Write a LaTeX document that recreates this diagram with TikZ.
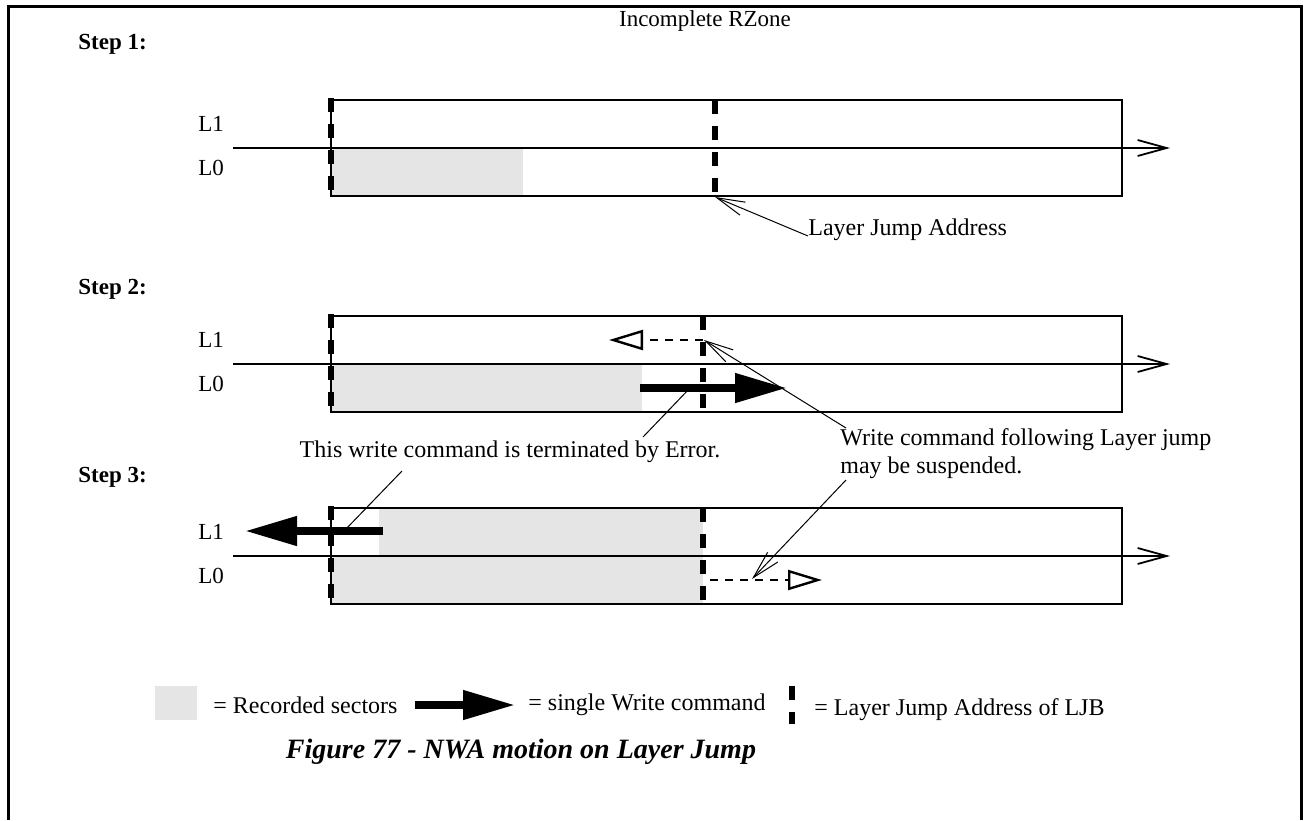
\documentclass[tikz,border=0pt]{standalone}
\usepackage{fontspec}
\setmainfont{Liberation Serif}
\usetikzlibrary{arrows.meta,positioning}

\begin{document}
\begin{tikzpicture}[
  x=0.5pt,y=-0.5pt,
  font=\fontsize{11.5}{13.5}\selectfont,
  every node/.style={inner sep=0pt},
  zone/.style={draw,line width=0.9pt},
  rec/.style={fill=black!10},
  lja/.style={line width=2.8pt,dash pattern=on 7pt off 6pt},
  axis/.style={line width=0.9pt,-{Straight Barb[length=14.5pt,width=8pt]}},
  callout/.style={line width=0.5pt},
  pointer/.style={callout,-{Straight Barb[length=14pt,width=7pt]}},
  wcmd/.style={line width=3.8pt,-{Triangle[length=26pt,width=14pt]}},
  susp/.style={line width=1.2pt,dash pattern=on 4pt off 3.5pt,-{Triangle[open,length=17pt,width=10pt]}},
  lbl/.style={anchor=west},
  note/.style={font=\fontsize{12}{14}\selectfont},
  steplbl/.style={anchor=west,font=\fontsize{11.5}{13.5}\selectfont\bfseries},
]
\useasboundingbox (0,0) rectangle (1306,820);

% frame
\draw[line width=1.5pt] (8,820) -- (8,6) -- (1301,6) -- (1301,820);

\node (title) at (705,21) {Incomplete RZone};

% recorded sectors
\fill[rec] (331,148) rectangle (523,196);
\fill[rec] (331,364) rectangle (642,412);
\fill[rec] (379,508) rectangle (703,556);
\fill[rec] (331,556) rectangle (703,604);

% the three steps
\foreach \n/\t/\j/\s in {1/100/715/44, 2/316/703/289, 3/508/703/477} {
  \node[steplbl] (step\n) at (78,\s) {Step \n:};
  \draw[zone] (331,\t) rectangle (1122,{\t+96});
  \coordinate (ax\n) at (233,{\t+48});
  \coordinate (axe\n) at (1170,{\t+48});
  \draw[axis] (ax\n) -- (axe\n);
  \draw[lja] (331,{\t-2}) -- (331,{\t+98});
  \draw[lja] (\j,\t) -- (\j,{\t+96});
  \node[lbl] (L1-\n) at (198,{\t+24}) {L1};
  \node[lbl] (L0-\n) at (198,{\t+68}) {L0};
}

% step 1 callout
\coordinate (j1) at (715,197);
\node[lbl,note] (ljaddr) at (808,230) {Layer Jump Address};
\draw[pointer] ([yshift=-3pt]ljaddr.west) -- (j1);

% write commands
\coordinate (w2s) at (640,388);
\coordinate (w2e) at (787,388);
\draw[wcmd] (w2s) -- (w2e);
\coordinate (w3s) at (383,531);
\coordinate (w3e) at (245,531);
\draw[wcmd] (w3s) -- (w3e);

% suspended commands
\coordinate (s2s) at (703,340);
\coordinate (s2e) at (609,340);
\draw[susp] (s2s) -- (s2e);
\coordinate (s3s) at (710,580);
\coordinate (s3e) at (822,580);
\draw[susp] (s3s) -- (s3e);

% error callout
\node[note] (err) at (510,452) {This write command is terminated by Error.};
\coordinate (e2) at (690,388);
\coordinate (e3) at (345,530);
\draw[callout] (643,437) -- (e2);
\draw[callout] (402,471) -- (e3);

% suspend callout
\node[note,anchor=north west,align=left] (susptxt) at (840,428) {Write command following Layer jump\\may be suspended.};
\coordinate (p2) at (704,340);
\coordinate (p3) at (752,579);
\draw[pointer] ([xshift=3pt]susptxt.north west) -- (p2);
\draw[pointer] ([xshift=3pt,yshift=-26pt]susptxt.north west) -- (p3);

% legend
\fill[rec] (155,686) rectangle (197,720);
\node[lbl,note] (leg1) at (213,705) {= Recorded sectors};
\coordinate (lw1) at (415,705);
\coordinate (lw2) at (515,705);
\draw[wcmd] (lw1) -- (lw2);
\node[lbl,note] (leg2) at (528,705) {= single Write command};
\draw[lja] (792,686) -- (792,724);
\node[lbl,note] (leg3) at (814,710) {= Layer Jump Address of LJB};

% caption
\node[font=\fontsize{14}{16}\selectfont\bfseries\itshape] (cap) at (521,752) {Figure 77 - NWA motion on Layer Jump};
\end{tikzpicture}
\end{document}
